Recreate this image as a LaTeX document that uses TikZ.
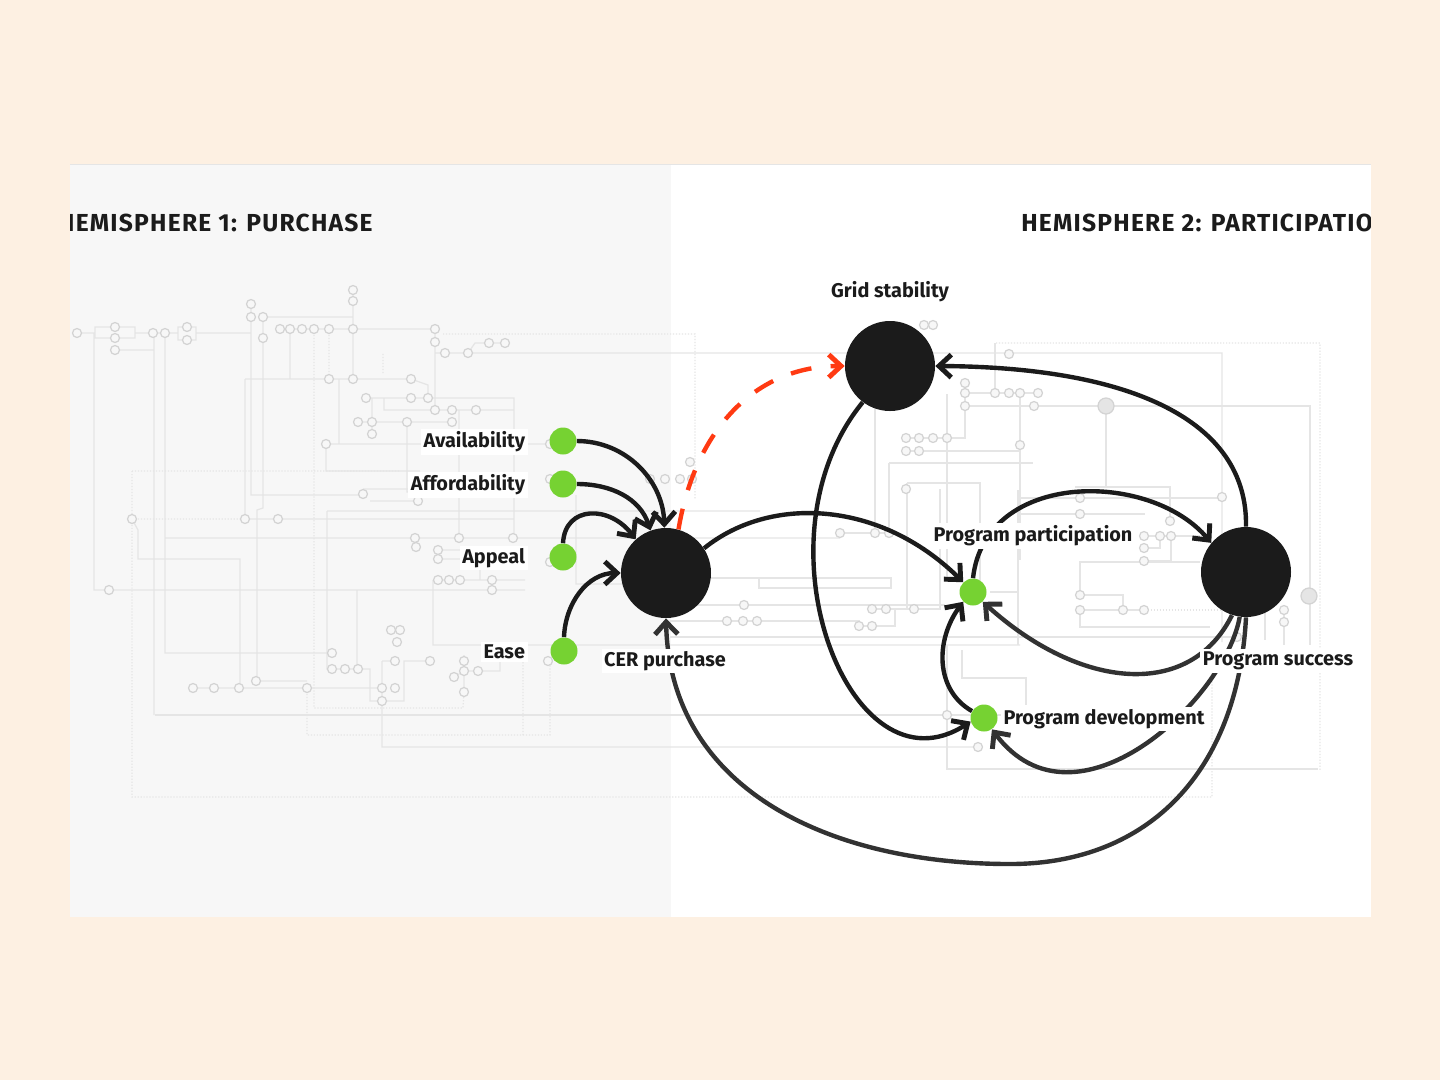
\documentclass[tikz,border=0pt]{standalone}
\usepackage{xcolor}
\usepackage{fontspec}
\setmainfont{Fira Sans}
\usetikzlibrary{arrows.meta}

\definecolor{pagebg}{HTML}{FDF0E2}
\definecolor{leftbg}{HTML}{F7F7F7}
\definecolor{hubcol}{HTML}{1B1B1B}
\definecolor{dotcol}{HTML}{76D232}
\definecolor{redcol}{HTML}{FF3A12}
\definecolor{faint}{HTML}{E5E5E5}

\begin{document}
\begin{tikzpicture}[x=0.02cm, y=-0.02cm,
>={Straight Barb[length=7pt,width=13pt,line width=2.8pt]},
hub/.style={circle, fill=hubcol, minimum size=90*0.02cm, inner sep=0pt},
dot/.style={circle, fill=dotcol, minimum size=27*0.02cm, inner sep=0pt},
lab/.style={fill=white, inner sep=1.5pt, font=\bfseries\fontsize{11.3}{13}\selectfont, text=hubcol},
title/.style={inner sep=0pt, font=\bfseries\fontsize{14}{16}\selectfont\addfontfeature{LetterSpace=5}, text=hubcol},
link/.style={->, draw=hubcol, line width=2.5pt},
back/.style={draw=faint, line width=0.7pt},
backdot/.style={draw=faint, line width=0.7pt, densely dotted},
bubble/.style={draw=faint!92!black, line width=0.7pt, fill=leftbg}]

\useasboundingbox (0,0) rectangle (1440,1080);
\fill[pagebg] (0,0) rectangle (1440,1080);
\fill[white] (70,164) rectangle (1371,917);
\fill[leftbg] (70,164) rectangle (671,917);
\draw[faint, line width=0.5pt] (70,164) -- (1371,164);

% faint circuit behind, left half
\draw[back] (77,333) -- (95,333) (94,333) -- (94,590) -- (525,590)
  (95,327) rectangle (135,338) (135,333) -- (178,333) (178,327) rectangle (196,340)
  (196,333) -- (251,333) (251,304) -- (251,495) -- (363,495)
  (263,317) -- (353,317) (263,317) -- (263,508) -- (257,510) -- (257,681)
  (280,329) -- (435,329) (290,329) -- (290,379) (245,379) -- (411,379) (245,379) -- (245,519)
  (353,290) -- (353,379) (411,379) -- (428,385) -- (428,398) (435,329) -- (435,410)
  (435,353) -- (1222,353) -- (1222,642) (468,353) -- (475,343) -- (505,343)
  (366,398) -- (514,398) -- (514,538) (384,398) -- (384,410) -- (514,410) (459,410) -- (459,538)
  (372,398) -- (372,434) (358,422) -- (452,422) (407,422) -- (407,492) -- (418,492)
  (339,379) -- (339,444) (326,444) -- (550,444) (326,444) -- (326,471) -- (420,471)
  (363,489) -- (418,489) (370,501) -- (418,501)
  (245,519) -- (513,519) (327,511) -- (760,511) (327,511) -- (327,669) -- (370,669) -- (370,701) -- (382,701)
  (165,333) -- (165,653) -- (332,653) (165,538) -- (840,538) (115,350) -- (154,350)
  (154,333) -- (154,715) (132,519) -- (138,530) -- (138,559) -- (240,559) -- (240,688)
  (193,688) -- (382,688) (257,681) -- (307,681) (357,590) -- (357,669)
  (382,661) -- (382,701) -- (404,701) -- (404,661) -- (430,661) (382,661) -- (395,661)
  (382,701) -- (382,747) -- (980,747) (433,580) -- (433,645) -- (1020,645)
  (438,580) -- (525,580) (480,558) -- (480,580) (438,550) -- (470,550) (438,559) -- (470,559)
  (454,677) -- (464,671) -- (500,671) -- (500,660) (464,655) -- (464,692) (576,495) -- (576,584) -- (640,584);
\draw[back, line width=1.4pt] (155,715) -- (1030,715) (670,637) -- (1240,637);
\draw[backdot] (383,373) -- (383,353) (329,329) -- (329,379) (443,334) -- (695,334) -- (695,500)
  (132,471) -- (400,471) (132,471) -- (132,797) -- (1212,797) -- (1212,645) (132,519) -- (245,519)
  (314,329) -- (314,708) -- (463,708) -- (464,692) (307,688) -- (307,735) -- (550,735) -- (550,661)
  (523,735) -- (523,660) (996,343) -- (1320,343) -- (1320,770);

% faint circuit behind, right half
\draw[back] (965,383) -- (965,438) -- (906,438) (965,393) -- (1038,393) (995,343) -- (995,393)
  (1020,393) -- (1020,560) (965,406) -- (1106,406) -- (1310,406) -- (1310,645) (1106,406) -- (1106,487)
  (875,400) -- (875,533) (947,394) -- (947,580) (906,451) -- (1020,451) (889,463) -- (1033,463)
  (889,463) -- (889,535) (840,533) -- (889,533) (907,483) -- (980,483) -- (980,600) (907,483) -- (907,610)
  (940,489) -- (940,609) -- (872,609) (1075,487) -- (1170,487) -- (1170,521) (1018,498) -- (1222,498)
  (1018,514) -- (1145,514) (670,578) -- (759,578) -- (759,588) -- (891,588) -- (891,578) -- (760,578)
  (670,605) -- (945,605) (670,621) -- (860,621) (859,626) -- (895,626) -- (895,609)
  (947,645) -- (947,769) -- (1318,769) (962,650) -- (962,678) -- (1026,678) -- (1026,705)
  (1080,595) -- (1080,562) -- (1200,562) (1080,595) -- (1123,595) -- (1123,610) (1080,610) -- (1145,610)
  (1080,610) -- (1080,627) -- (1210,627) (1144,536) -- (1200,536) (1144,548) -- (1160,548) -- (1160,536)
  (1144,561) -- (1171,561) -- (1171,536) (1284,610) -- (1284,645) (1240,610) -- (1265,610) -- (1265,640);
\draw[back, line width=1.4pt] (1018,490) -- (1018,645) (990,592) -- (1018,592);
\draw[backdot] (1145,610) -- (1240,610);

% faint bubbles
\foreach \x/\y in {77/333,115/327,115/338,115/350,153/333,165/333,187/327,187/340,251/304,251/317,263/317,263/338,
  280/329,290/329,302/329,314/329,329/329,353/329,353/290,353/301,435/329,435/342,445/353,468/353,489/343,505/343,
  329/379,353/379,411/379,366/398,411/398,428/398,435/410,452/410,476/410,358/422,372/422,407/422,452/422,372/434,
  326/444,363/494,418/501,132/519,245/519,278/519,415/538,416/547,459/538,513/538,438/550,438/559,438/580,449/580,
  460/580,492/580,492/590,109/590,332/653,332/669,345/669,358/669,391/630,400/630,397/642,395/661,430/661,464/661,
  464/671,478/671,454/677,464/692,193/688,214/688,239/688,256/681,307/688,382/688,395/688,382/701,548/661,550/444,
  550/479,550/562,924/325,933/325,1009/354,965/383,965/393,995/393,1009/393,1020/393,1038/393,965/406,1034/406,
  906/438,919/438,933/438,947/438,906/451,919/451,1020/445,906/489,840/533,875/533,889/533,744/605,727/621,743/621,
  757/621,872/609,886/609,914/609,859/626,872/626,1080/498,1080/514,1170/521,1144/536,1160/536,1171/536,1144/548,
  1144/561,1222/497,1080/595,1080/610,1123/610,1144/610,1284/610,1284/622,1237/637,947/715,978/747,665/479,680/479,
  692/479,690/462,650/479}
  \draw[bubble] (\x,\y) circle (4.5);
\draw[bubble, fill=faint] (1106,406) circle (8);
\draw[bubble, fill=faint] (1309,596) circle (8);

% hubs and dots
\node[hub] (cer) at (666,573) {};
\node[hub] (grid) at (890,366) {};
\node[hub] (success) at (1246,572) {};
\node[dot] (avail) at (563,441) {};
\node[dot] (afford) at (563,484) {};
\node[dot] (appeal) at (563,557) {};
\node[dot] (ease) at (564,651) {};
\node[dot] (part) at (973,592) {};
\node[dot] (dev) at (984,718) {};
\coordinate (low) at (1010,864);

\draw[link] (avail) to[out=0,in=92] (cer);
\draw[link] (afford) to[out=0,in=108] (cer.110);
\draw[link] (appeal.north) .. controls (565,505) and (610,505) .. (cer.132);
\draw[link] (ease.north) to[out=88,in=180] (cer.west);
\draw[->, draw=redcol, line width=2.5pt, dash pattern=on 12pt off 11pt] (cer.74) .. controls (695,430) and (755,366) .. (grid.west);
\draw[link] (cer.33) .. controls (770,495) and (880,500) .. (part.135);
\draw[link] (grid.233) .. controls (750,540) and (850,800) .. (dev.195);
\draw[link] (success.north) .. controls (1248,420) and (1130,367) .. (grid.east);
\draw[link] (part.north) .. controls (985,470) and (1150,470) .. (success.140);
\draw[link, draw=hubcol!90!white] (success.252) .. controls (1190,700) and (1080,690) .. (part.315);
\draw[link, draw=hubcol!90!white] (success.262) .. controls (1225,700) and (1075,840) .. (dev.305);
\draw[link, draw=hubcol!90!white] (success.south) .. controls (1238,770) and (1150,864) .. (low)
  .. controls (830,864) and (670,790) .. (cer.south);
\draw[link] (dev.150) .. controls (935,690) and (935,640) .. (part.225);

% labels
\node[lab, anchor=east] (availlab) at (528,442) {Availability};
\node[lab, anchor=east] (affordlab) at (528,485) {Affordability};
\node[lab, anchor=east] (appeallab) at (528,558) {Appeal};
\node[lab, anchor=east] (easelab) at (528,652) {Ease};
\node[lab] (cerlab) at (665,661) {CER purchase};
\node[lab] (gridlab) at (890,292) {Grid stability};
\node[lab] (partlab) at (1033,536) {Program participation};
\node[lab] (successlab) at (1278,661) {Program success};
\node[lab] (devlab) at (1104,719) {Program development};

\begin{scope}
\clip (70,164) rectangle (1370,917);
\node[title, anchor=east] (titleone) at (373,223) {HEMISPHERE 1: PURCHASE};
\node[title, anchor=west] (titletwo) at (1021,223) {HEMISPHERE 2: PARTICIPATION};
\end{scope}

\end{tikzpicture}
\end{document}
